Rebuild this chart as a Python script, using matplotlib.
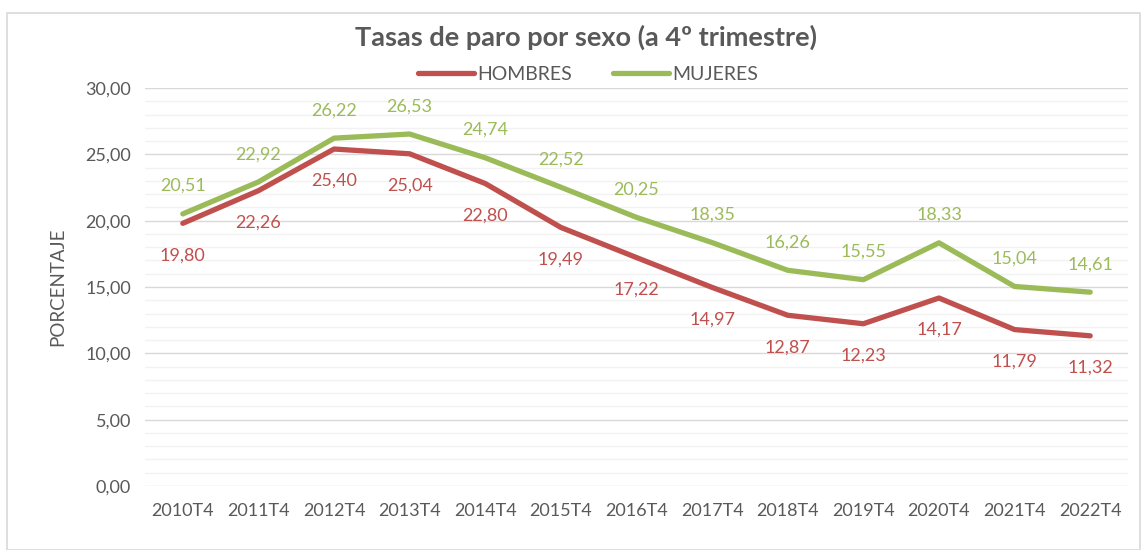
import matplotlib
matplotlib.use("Agg")
import matplotlib.pyplot as plt
from matplotlib.ticker import MultipleLocator, FuncFormatter
from matplotlib.patches import Rectangle

categories = ["2010T4", "2011T4", "2012T4", "2013T4", "2014T4", "2015T4", "2016T4",
              "2017T4", "2018T4", "2019T4", "2020T4", "2021T4", "2022T4"]
hombres = [19.80, 22.26, 25.40, 25.04, 22.80, 19.49, 17.22, 14.97, 12.87, 12.23, 14.17, 11.79, 11.32]
mujeres = [20.51, 22.92, 26.22, 26.53, 24.74, 22.52, 20.25, 18.35, 16.26, 15.55, 18.33, 15.04, 14.61]

RED = "#C0504D"
GREEN = "#9BBB59"
GRAY = "#595959"

plt.rcParams['font.family'] = ['Lato', 'DejaVu Sans']

fig = plt.figure(figsize=(11.46, 5.5), dpi=100)
ax = fig.add_axes([145/1146, 1-486/550, (1128-145)/1146, (486-88)/550])

x = list(range(len(categories)))
ax.plot(x, hombres, color=RED, lw=3.8, solid_capstyle='round', solid_joinstyle='round', label="HOMBRES", zorder=3)
ax.plot(x, mujeres, color=GREEN, lw=3.8, solid_capstyle='round', solid_joinstyle='round', label="MUJERES", zorder=3)

fmt = lambda v: f"{v:.2f}".replace(".", ",")
for xi, v in zip(x, hombres):
    ax.annotate(fmt(v), (xi, v), xytext=(0, -23), textcoords='offset points',
                ha='center', va='center', color=RED, fontsize=13)
for xi, v in zip(x, mujeres):
    ax.annotate(fmt(v), (xi, v), xytext=(0, 20), textcoords='offset points',
                ha='center', va='center', color=GREEN, fontsize=13)

ax.set_xlim(-0.5, len(categories) - 0.5)
ax.set_ylim(0, 30)
ax.yaxis.set_major_locator(MultipleLocator(5))
ax.yaxis.set_minor_locator(MultipleLocator(1))
ax.yaxis.set_major_formatter(FuncFormatter(lambda v, p: fmt(v)))
ax.set_xticks(x)
ax.set_xticklabels(categories)
ax.grid(axis='y', which='major', color='#D9D9D9', lw=1.0)
ax.grid(axis='y', which='minor', color='#F2F2F2', lw=1.0)
ax.set_axisbelow(True)
for s in ax.spines.values():
    s.set_visible(False)
ax.tick_params(axis='both', which='both', length=0, colors=GRAY, labelsize=13)
ax.tick_params(axis='x', pad=12)
ax.tick_params(axis='y', pad=10)
ax.set_ylabel("PORCENTAJE", color=GRAY, fontsize=13.5, labelpad=14)

fig.text(586/1146, 1 - 37/550, "Tasas de paro por sexo (a 4º trimestre)", ha='center', va='center',
         fontsize=19.5, fontweight='bold', color=GRAY)

leg = fig.legend(loc='center', bbox_to_anchor=(588/1146, 1 - 74/550), ncol=2, frameon=False,
                 fontsize=14, handlelength=2.9, columnspacing=2.1, handletextpad=0.15)
for t in leg.get_texts():
    t.set_color(GRAY)

fig.patches.append(Rectangle((7/1146, 0), (1140-7)/1146, 1 - 13/550, transform=fig.transFigure,
                             fill=False, edgecolor='#D9D9D9', lw=1.2))

fig.savefig("out.png", dpi=100)
